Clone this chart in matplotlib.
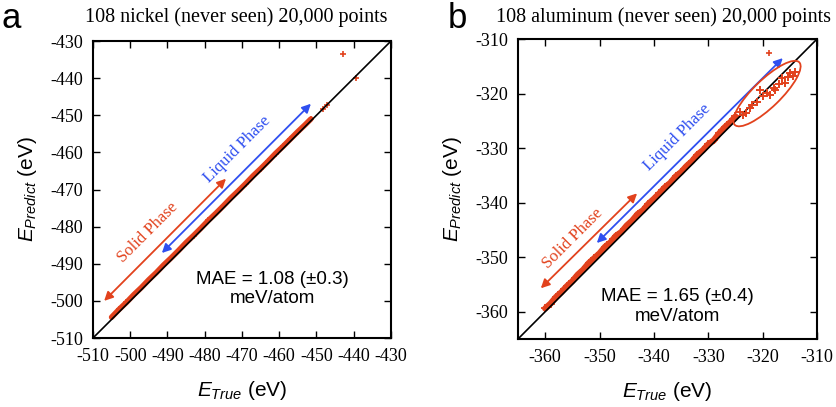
import matplotlib
matplotlib.use("Agg")
import matplotlib.pyplot as plt
from matplotlib.patches import Ellipse

# ---- data ----------------------------------------------------------------
# nickel: dense band along the diagonal + a few outliers
ni_true = [-505, -503, -501, -499, -497, -495, -493, -491, -489, -487, -485,
           -483, -481, -479, -477, -475, -473, -471, -469, -467, -465, -463,
           -461, -459, -457, -455, -453, -451.5]
ni_pred = [-504.4, -502.3, -500.4, -498.3, -496.4, -494.3, -492.4, -490.3,
           -488.4, -486.4, -484.3, -482.4, -480.4, -478.3, -476.4, -474.4,
           -472.3, -470.4, -468.4, -466.3, -464.4, -462.4, -460.3, -458.4,
           -456.4, -454.4, -452.5, -451.0]
ni_out_true = [-448.3, -447.2, -439.4, -442.9]
ni_out_pred = [-448.3, -447.3, -439.9, -433.5]

# aluminum: band along the diagonal, then the scattered liquid cluster
al_true = [-360.0, -359.0, -358.0, -357.0, -356.0, -355.0, -354.0, -353.0,
           -352.0, -351.0, -350.0, -349.0, -348.0, -347.0, -346.0, -345.0,
           -344.0, -343.0, -342.0, -341.0, -340.0, -339.0, -338.0, -337.0,
           -336.0, -335.0, -334.0, -333.0, -332.0, -331.0, -330.0, -329.0,
           -328.0, -327.0, -326.0, -325.0]
al_pred = [-359.4, -358.5, -357.3, -356.4, -355.3, -354.4, -353.2, -352.3,
           -351.1, -350.2, -349.3, -348.1, -347.3, -346.1, -345.4, -344.2,
           -343.3, -342.1, -341.4, -340.2, -339.3, -338.3, -337.2, -336.4,
           -335.2, -334.4, -333.3, -332.4, -331.2, -330.4, -329.3, -328.6,
           -327.3, -326.2, -325.3, -324.2]
al_clu_true = [-324.2, -323.6, -323.0, -322.4, -322.0, -321.0, -320.5, -319.9,
               -319.2, -318.6, -318.0, -317.7, -317.0, -316.4, -315.9, -315.4,
               -315.0, -314.5, -314.0]
al_clu_pred = [-323.4, -324.0, -323.5, -322.6, -322.1, -321.6, -319.4, -320.5,
               -319.9, -320.3, -319.0, -319.4, -318.3, -317.2, -318.1, -316.9,
               -316.2, -316.8, -316.1]
al_out_true = [-318.8]
al_out_pred = [-312.6]

RED = "#e2421d"
BLUE = "#2f4ff0"

plt.rcParams["axes.unicode_minus"] = False
plt.rcParams["mathtext.fontset"] = "custom"
plt.rcParams["mathtext.it"] = "Liberation Sans:italic"
plt.rcParams["mathtext.rm"] = "Liberation Sans"
SERIF = "Liberation Serif"
SANS = "Liberation Sans"

fig = plt.figure(figsize=(8.36, 4.07), dpi=100)
ax_a = fig.add_axes([0.1112, 0.1695, 0.3565, 0.7297])
ax_b = fig.add_axes([0.6196, 0.1671, 0.3577, 0.7370])


def style(ax, lo, hi, ticks):
    ax.set_xlim(lo, hi)
    ax.set_ylim(lo, hi)
    ax.set_xticks(ticks)
    ax.set_yticks(ticks)
    ax.tick_params(direction="in", top=True, right=True, length=5, width=1,
                   pad=7, labelsize=13)
    for lab in ax.get_xticklabels() + ax.get_yticklabels():
        lab.set_fontfamily(SERIF)
    for s in ax.spines.values():
        s.set_linewidth(1.5)
    ax.plot([lo, hi], [lo, hi], color="black", lw=1.2, zorder=4)
    ax.set_xlabel(r"$E_{True}$ (eV)", fontfamily=SANS, fontsize=15, labelpad=10)
    ax.set_ylabel(r"$E_{Predict}$ (eV)", fontfamily=SANS, fontsize=15, labelpad=8)


def arrow(ax, p0, p1, color):
    ax.annotate("", xy=p1, xytext=p0,
                arrowprops=dict(arrowstyle="<|-|>", color=color, lw=1.3,
                                mutation_scale=13, shrinkA=0, shrinkB=0))


# ---- panel a: nickel -------------------------------------------------------
style(ax_a, -510, -430, range(-510, -429, 10))
ax_a.plot(ni_true, ni_pred, color=RED, lw=4, zorder=2, solid_capstyle="round")
ax_a.plot(ni_true, ni_pred, "+", color=RED, ms=5, mew=1.1, zorder=3)
ax_a.plot(ni_out_true, ni_out_pred, "+", color=RED, ms=5, mew=1.2, zorder=3)
arrow(ax_a, (-507, -500), (-474.3, -467.1), RED)
arrow(ax_a, (-491.5, -487.1), (-451.5, -446.9), BLUE)
ax_a.text(-495.2, -481.7, "Solid Phase", color=RED, rotation=45, fontsize=12,
          fontfamily=SERIF, ha="center", va="center")
ax_a.text(-471.3, -459.3, "Liquid Phase", color=BLUE, rotation=45, fontsize=12,
          fontfamily=SERIF, ha="center", va="center")
ax_a.text(-461.9, -496.8, "MAE = 1.08 (±0.3)\nmeV/atom", fontsize=13.5,
          fontfamily=SANS, ha="center", va="center", linespacing=1.2)

# ---- panel b: aluminum -----------------------------------------------------
style(ax_b, -365, -310, range(-360, -309, 10))
ax_b.plot(al_true, al_pred, color=RED, lw=4.5, zorder=2, solid_capstyle="round")
ax_b.plot(al_true, al_pred, "+", color=RED, ms=6, mew=1.3, zorder=3)
ax_b.plot(al_clu_true, al_clu_pred, "+", color=RED, ms=6, mew=1.4, zorder=5)
ax_b.plot(al_out_true, al_out_pred, "+", color=RED, ms=5, mew=1.2, zorder=3)
ax_b.add_patch(Ellipse((-319.2, -320.0), 16.5, 5.0, angle=44, fill=False,
                       edgecolor=RED, lw=1.3, zorder=5))
arrow(ax_b, (-360.8, -355.7), (-343.1, -338.3), RED)
arrow(ax_b, (-350.5, -347.4), (-316.3, -313.5), BLUE)
ax_b.text(-354.9, -346.5, "Solid Phase", color=RED, rotation=45, fontsize=12,
          fontfamily=SERIF, ha="center", va="center")
ax_b.text(-335.7, -328.0, "Liquid Phase", color=BLUE, rotation=45, fontsize=12,
          fontfamily=SERIF, ha="center", va="center")
ax_b.text(-335.6, -359.0, "MAE = 1.65 (±0.4)\nmeV/atom", fontsize=13.5,
          fontfamily=SANS, ha="center", va="center", linespacing=1.2)

# ---- titles and panel letters ----------------------------------------------
fig.text(0.282, 0.958, "108 nickel (never seen) 20,000 points", fontsize=14.5,
         fontfamily=SERIF, ha="center", va="center")
fig.text(0.794, 0.958, "108 aluminum (never seen) 20,000 points", fontsize=14.5,
         fontfamily=SERIF, ha="center", va="center")
fig.text(0.002, 0.955, "a", fontsize=25, fontfamily=SANS, ha="left", va="center")
fig.text(0.535, 0.955, "b", fontsize=25, fontfamily=SANS, ha="left", va="center")

fig.savefig("out.png", dpi=100)
